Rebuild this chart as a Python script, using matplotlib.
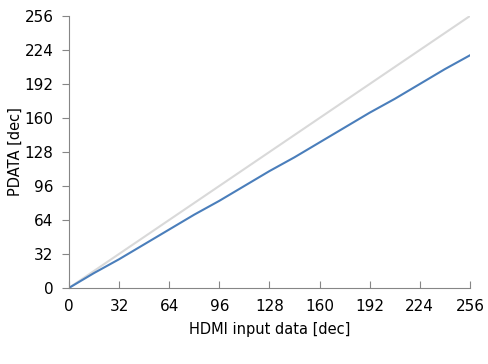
import matplotlib
matplotlib.use("Agg")
import matplotlib.pyplot as plt

# HDMI input code vs. output PDATA
hdmi_in = [0, 16, 32, 48, 64, 80, 96, 112, 128, 144, 160, 176, 192, 208, 224, 240, 256]
pdata = [0, 14, 27, 41, 55, 69, 82, 96, 110, 123, 137, 151, 165, 178, 192, 206, 219]
ref_x = [0, 256]
ref_y = [0, 256]
ticks = [0, 32, 64, 96, 128, 160, 192, 224, 256]

fig = plt.figure(figsize=(4.89, 3.64), dpi=100)
ax = fig.add_axes([0.141, 0.209, 0.820, 0.747])

ax.plot(ref_x, ref_y, color="#d9d9d9", lw=1.5)
ax.plot(hdmi_in, pdata, color="#4a7ebb", lw=1.5)

ax.set_xlim(0, 256)
ax.set_ylim(0, 256)
ax.set_xticks(ticks)
ax.set_yticks(ticks)

for s in ["top", "right"]:
    ax.spines[s].set_visible(False)
for s in ["left", "bottom"]:
    ax.spines[s].set_color("#868686")
ax.tick_params(axis="y", direction="out", length=5, color="#868686", labelsize=11, pad=6)
ax.tick_params(axis="x", direction="in", length=5, color="#868686", labelsize=11, pad=8)

ax.set_xlabel("HDMI input data [dec]", fontsize=10.5, labelpad=6)
ax.set_ylabel("PDATA [dec]", fontsize=10.5, va="center")
ax.yaxis.set_label_coords(-0.135, 0.5)

fig.savefig("out.png", dpi=100)
